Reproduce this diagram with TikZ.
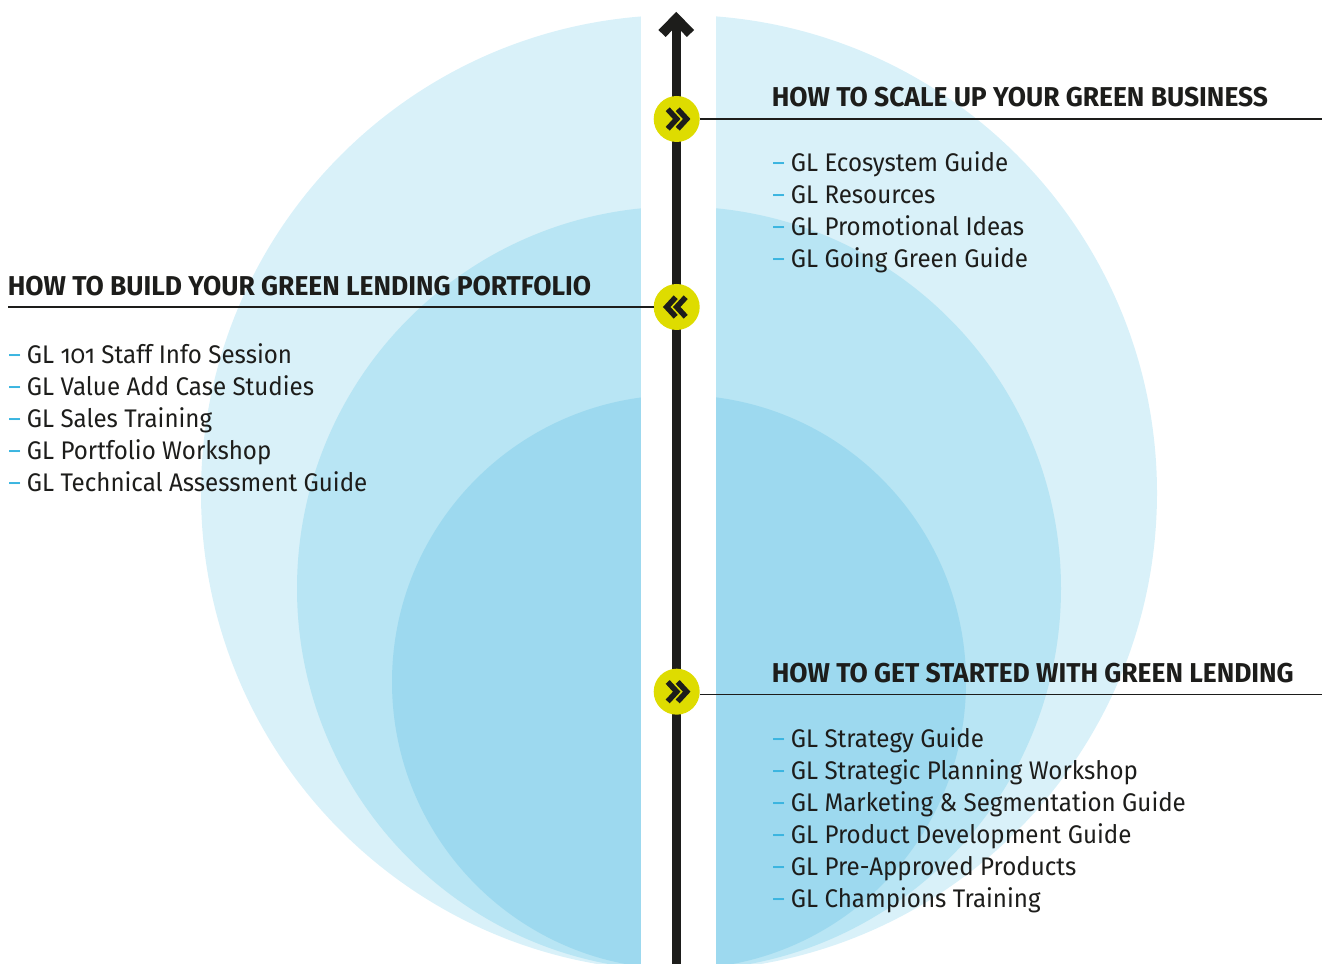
\documentclass[tikz,border=0pt]{standalone}
\usepackage{fontspec}
\setmainfont[Numbers=OldStyle]{Fira Sans}
\newfontfamily\headfont[Numbers=OldStyle,FakeStretch=0.97]{Fira Sans}
\newfontfamily\entryfont[Numbers=OldStyle,FakeStretch=0.947]{Fira Sans}
\definecolor{haloa}{HTML}{D9F1F9}
\definecolor{halob}{HTML}{B8E5F4}
\definecolor{haloc}{HTML}{9DD9EF}
\definecolor{dashblue}{HTML}{3BB5E0}
\definecolor{badgeyellow}{HTML}{DEDC00}
\definecolor{inkblack}{HTML}{1D1D1B}
\tikzset{
    badge/.style={circle,fill=badgeyellow,minimum size=0.92cm,inner sep=0pt,outer sep=0pt},
    chevline/.style={inkblack,line width=0.11cm,miter limit=10},
    rulebar/.style={inkblack,line width=0.026cm},
    headline/.style={anchor=base west,inner sep=0pt,font=\headfont\bfseries\fontsize{15.5}{18}\selectfont,text=inkblack},
    entry/.style={anchor=base west,inner sep=0pt,font=\entryfont\fontsize{14.5}{18}\selectfont,text=inkblack},
    chevpair/.pic={
        \draw[chevline] (-0.18,0.195) -- (0,0) -- (-0.18,-0.195);
        \draw[chevline] (0.02,0.195) -- (0.2,0) -- (0.02,-0.195);
    }
}
\newcommand{\entrydash}{{\color{dashblue}–}\hspace{0.12cm}}
\begin{document}
\begin{tikzpicture}
        \useasboundingbox (0,0) rectangle (26.46,19.28);
        \clip (0,0) rectangle (26.46,19.28);
        \fill[haloa] (13.58,9.42) circle (9.56);
        \fill[halob] (13.58,7.51) circle (7.64);
        \fill[haloc] (13.58,5.64) circle (5.74);
        \fill[white] (12.82,0) rectangle (14.32,19.28);
        \coordinate (arrowfoot) at (13.525,0);
        \coordinate (arrowtip) at (13.525,18.93);
        \coordinate (rulea) at (26.44,16.90);
        \coordinate (ruleb) at (0.16,13.14);
        \coordinate (rulec) at (26.44,5.39);
        \draw[inkblack,line width=0.17cm] (arrowfoot) -- (arrowtip);
        \draw[inkblack,line width=0.2cm,miter limit=10] (13.24,18.61) -- (13.525,18.9) -- (13.81,18.61);
        \node[badge] (badgea) at (13.534,16.90) {};
        \node[badge] (badgeb) at (13.534,13.14) {};
        \node[badge] (badgec) at (13.534,5.446) {};
        \draw[rulebar] (badgea) -- (rulea);
        \draw[rulebar] (badgeb) -- (ruleb);
        \draw[rulebar] (badgec.east |- rulec) -- (rulec);
        \pic at (badgea) {chevpair};
        \pic[xscale=-1] at (badgeb) {chevpair};
        \pic at (badgec) {chevpair};
        \node[headline] (heada) at (15.43,17.14) {HOW TO SCALE UP YOUR GREEN BUSINESS};
        \node[headline] (headb) at (0.15,13.36) {HOW TO BUILD YOUR GREEN LENDING PORTFOLIO};
        \node[headline] (headc) at (15.43,5.62) {HOW TO GET STARTED WITH GREEN LENDING};
        \foreach \i/\t in {0/GL Ecosystem Guide,1/GL Resources,2/GL Promotional Ideas,3/GL Going Green Guide}
            \node[entry] (itema\i) at (15.44,15.85-0.64*\i) {\entrydash\t};
        \foreach \i/\t in {0/GL 101 Staff Info Session,1/GL Value Add Case Studies,2/GL Sales Training,3/GL Portfolio Workshop,4/GL Technical Assessment Guide}
            \node[entry] (itemb\i) at (0.16,12.01-0.64*\i) {\entrydash\t};
        \foreach \i/\t in {0/GL Strategy Guide,1/GL Strategic Planning Workshop,2/GL Marketing \& Segmentation Guide,3/GL Product Development Guide,4/GL Pre-Approved Products,5/GL Champions Training}
            \node[entry] (itemc\i) at (15.44,4.33-0.64*\i) {\entrydash\t};
    \end{tikzpicture}
\end{document}
